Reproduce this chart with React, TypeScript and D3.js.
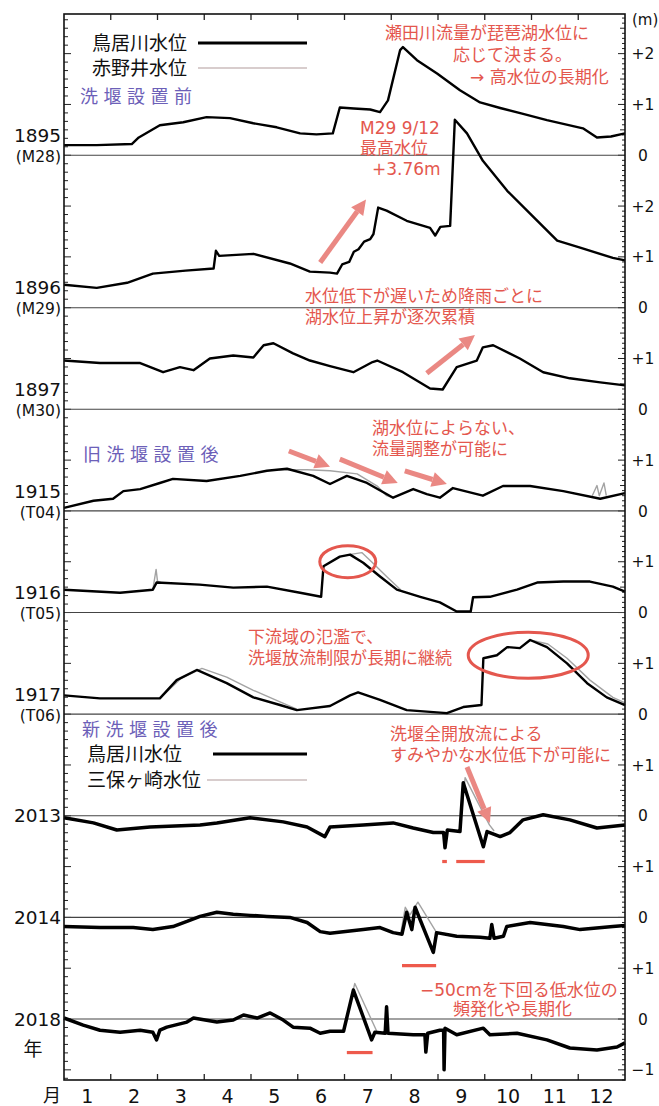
import React, { useEffect, useRef } from "react";
import * as d3 from "d3";

// month position: 0 = Jan 1, 12 = Dec 31 ; value: water level (m)
const monthLabels = ["1", "2", "3", "4", "5", "6", "7", "8", "9", "10", "11", "12"];

const torii1895 = [
  [0, 0.2], [0.7, 0.2], [1.45, 0.22], [1.6, 0.35], [2.05, 0.59], [2.55, 0.65], [3.05, 0.75],
  [3.55, 0.73], [4.05, 0.63], [4.55, 0.55], [5.05, 0.43], [5.4, 0.41], [5.75, 0.43], [5.9, 0.94],
  [6.2, 0.92], [6.55, 0.9], [6.76, 0.85], [6.93, 1.08], [7.19, 2.07], [7.25, 2.13], [7.55, 1.87],
  [7.98, 1.61], [8.47, 1.28], [8.9, 1.04], [9.33, 0.93], [9.8, 0.82], [10.33, 0.69], [11.1, 0.53],
  [11.4, 0.35], [11.7, 0.37], [12, 0.43],
];
const torii1896 = [
  [0, 0.45], [0.7, 0.39], [1.35, 0.49], [1.9, 0.67], [2.6, 0.73], [3.2, 0.77], [3.25, 1.12],
  [3.32, 1.02], [4.05, 1.06], [4.83, 0.87], [5.26, 0.71], [5.69, 0.69], [5.84, 0.67], [5.95, 0.85],
  [6.1, 0.9], [6.2, 1.1], [6.3, 1.15], [6.42, 1.3], [6.55, 1.35], [6.62, 1.45], [6.72, 1.97],
  [6.9, 1.91], [7.33, 1.71], [7.83, 1.57], [7.94, 1.42], [8.05, 1.59], [8.26, 1.61], [8.36, 3.7],
  [8.62, 3.43], [8.96, 2.89], [9.48, 2.3], [9.97, 1.85], [10.55, 1.32], [11.04, 1.18],
  [11.74, 0.98], [12, 0.93],
];
const torii1897 = [
  [0, 0.96], [0.77, 0.91], [1.63, 0.91], [2.12, 0.73], [2.48, 0.83], [2.77, 0.77], [3.12, 1.0],
  [3.62, 1.06], [4.05, 1.02], [4.27, 1.26], [4.48, 1.3], [4.9, 1.1], [5.26, 0.96], [5.69, 0.85],
  [6.19, 0.73], [6.6, 0.93], [6.7, 0.96], [7.25, 0.73], [7.83, 0.41], [8.1, 0.39], [8.4, 0.83],
  [8.83, 0.96], [8.96, 1.22], [9.18, 1.26], [9.75, 1.0], [10.25, 0.73], [10.82, 0.61],
  [11.47, 0.53], [12, 0.47],
];
const torii1915 = [
  [0, 0.06], [0.63, 0.2], [1.05, 0.24], [1.27, 0.39], [1.63, 0.43], [2.05, 0.55], [2.33, 0.63],
  [3.05, 0.59], [3.77, 0.69], [4.34, 0.79], [4.77, 0.83], [5.33, 0.69], [5.69, 0.53], [6.05, 0.69],
  [6.48, 0.55], [7.04, 0.26], [7.47, 0.43], [7.76, 0.33], [8.04, 0.26], [8.32, 0.45], [8.96, 0.3],
  [9.39, 0.49], [9.97, 0.49], [10.68, 0.39], [11.47, 0.24], [12, 0.35],
];
const torii1916 = [
  [0, 0.45], [1.2, 0.39], [1.9, 0.45], [1.98, 0.59], [2.9, 0.55], [3.62, 0.49], [4.34, 0.51],
  [5.05, 0.39], [5.5, 0.31], [5.55, 0.91], [5.9, 1.1], [6.12, 1.14], [6.4, 0.98], [6.76, 0.71],
  [7.12, 0.45], [7.62, 0.31], [8.04, 0.2], [8.4, 0.02], [8.7, 0.02], [8.75, 0.3], [9.11, 0.31],
  [9.69, 0.45], [10.12, 0.59], [10.68, 0.61], [11.25, 0.61], [11.74, 0.51], [12, 0.41],
];
const torii1917 = [
  [0, 0.37], [0.77, 0.31], [2.05, 0.31], [2.41, 0.67], [2.84, 0.87], [3.48, 0.61], [4.05, 0.33],
  [4.62, 0.18], [4.98, 0.08], [5.69, 0.16], [6.12, 0.37], [6.29, 0.43], [6.76, 0.28], [7.33, 0.08],
  [8.19, 0.02], [8.54, 0.14], [8.93, 0.18], [8.97, 1.1], [9.26, 1.16], [9.48, 1.32], [9.75, 1.3],
  [9.97, 1.46], [10.33, 1.32], [10.76, 1.0], [11.19, 0.61], [11.61, 0.33], [12, 0.18],
];
const torii2013 = [
  [0, -0.04], [0.63, -0.14], [1.13, -0.28], [1.84, -0.22], [2.91, -0.18], [3.27, -0.14],
  [3.98, -0.04], [4.69, -0.12], [5.2, -0.22], [5.58, -0.41], [5.69, -0.22], [6.4, -0.18],
  [7.04, -0.14], [7.47, -0.24], [7.9, -0.33], [8.12, -0.33], [8.15, -0.63], [8.2, -0.28],
  [8.47, -0.31], [8.54, 0.65], [8.97, -0.61], [9.05, -0.31], [9.33, -0.41], [9.54, -0.33],
  [9.82, -0.08], [10.25, 0.02], [10.82, -0.08], [11.4, -0.24], [12, -0.18],
];
const torii2014 = [
  [0, -0.18], [0.77, -0.2], [1.48, -0.2], [1.9, -0.24], [2.33, -0.18], [2.63, -0.08], [2.91, 0.02],
  [3.27, 0.1], [3.62, 0.06], [3.98, 0.04], [4.34, 0.02], [4.83, 0], [5.2, -0.1], [5.48, -0.28],
  [5.69, -0.31], [6.4, -0.24], [6.76, -0.2], [7.04, -0.3], [7.23, -0.33], [7.33, 0.1], [7.44, -0.24],
  [7.51, 0.2], [7.9, -0.69], [7.97, -0.3], [8.4, -0.37], [8.9, -0.39], [9.11, -0.41], [9.15, -0.14],
  [9.2, -0.41], [9.4, -0.37], [9.47, -0.18], [9.97, -0.1], [10.68, -0.18], [11.04, -0.24],
  [11.74, -0.18], [12, -0.16],
];
const torii2018 = [
  [0, 0.02], [0.41, -0.12], [0.77, -0.22], [1.2, -0.26], [1.63, -0.22], [1.9, -0.26], [1.98, -0.41],
  [2.05, -0.22], [2.2, -0.16], [2.63, -0.06], [2.77, 0.02], [3.27, -0.06], [3.62, -0.02],
  [3.84, 0.08], [4.13, 0.02], [4.41, 0.12], [4.69, -0.02], [4.9, -0.16], [5.26, -0.18],
  [5.48, -0.28], [5.69, -0.24], [5.98, -0.24], [6.19, 0.57], [6.58, -0.41], [6.65, -0.26],
  [6.87, -0.28], [6.9, 0.24], [6.93, -0.28], [7.47, -0.31], [7.72, -0.31], [7.74, -0.65],
  [7.78, -0.28], [8.04, -0.22], [8.12, -0.22], [8.13, -1.0], [8.15, -0.18], [8.4, -0.31],
  [8.97, -0.18], [9.11, -0.31], [9.69, -0.28], [10.33, -0.41], [10.82, -0.57], [11.4, -0.61],
  [11.83, -0.55], [12, -0.47],
];

// second gauge, only where it departs from the main one
const second1915 = [
  [[4.6, 0.81], [5.2, 0.81], [5.69, 0.79], [6.27, 0.73], [6.7, 0.49], [6.9, 0.3], [7.04, 0.26]],
  [[11.3, 0.3], [11.4, 0.5], [11.45, 0.3], [11.55, 0.55], [11.6, 0.3]],
];
const second1916 = [
  [[1.9, 0.45], [1.97, 0.85], [2.0, 0.62], [2.1, 0.58]],
  [[6.1, 1.14], [6.37, 1.18], [6.6, 0.98], [6.9, 0.71], [7.2, 0.45]],
];
const second1917 = [
  [[2.05, 0.31], [2.5, 0.7], [2.95, 0.9], [3.48, 0.73], [4.05, 0.47], [4.62, 0.24], [4.98, 0.1]],
  [[9.97, 1.46], [10.35, 1.38], [10.76, 1.1], [11.25, 0.67], [11.74, 0.33], [12, 0.22]],
];
const second2013 = [[[8.47, -0.31], [8.58, 0.75], [9.1, -0.18], [9.2, -0.3]]];
const second2014 = [[[7.2, -0.33], [7.3, 0.2], [7.4, 0.05], [7.57, 0.3], [7.97, -0.3]]];
const second2018 = [[[5.98, -0.24], [6.22, 0.7], [6.7, -0.26]]];

// full-open discharge periods (red bars)
const openGate2013 = [[8.09, 8.19], [8.39, 9.0]];
const openGate2014 = [[7.23, 7.96]];
const openGate2018 = [[6.05, 6.6]];

const panels = [
  { year: "1895", era: "(M28)", offset: 17, main: torii1895, second: [], right: [0, 1, 2] },
  { year: "1896", era: "(M29)", offset: 14, main: torii1896, second: [], right: [0, 1, 2] },
  { year: "1897", era: "(M30)", offset: 12, main: torii1897, second: [], right: [0, 1] },
  { year: "1915", era: "(T04)", offset: 10, main: torii1915, second: second1915, right: [0, 1] },
  { year: "1916", era: "(T05)", offset: 8, main: torii1916, second: second1916, right: [0, 1] },
  { year: "1917", era: "(T06)", offset: 6, main: torii1917, second: second1917, right: [0, 1] },
  { year: "2013", era: "", offset: 4, main: torii2013, second: second2013, right: [0, 1], bars: openGate2013, barAt: -0.9 },
  { year: "2014", era: "", offset: 2, main: torii2014, second: second2014, right: [0, 1], bars: openGate2014, barAt: -0.95 },
  { year: "2018", era: "", offset: 0, main: torii2018, second: second2018, right: [-1, 0, 1], bars: openGate2018, barAt: -0.66 },
];

// arrows: [panel offset, tail t, tail v, tip t, tip v]
const arrows = [
  [14, 5.48, 0.89, 6.46, 2.13],
  [12, 7.76, 0.71, 8.79, 1.46],
  [10, 4.81, 1.18, 5.69, 0.87],
  [10, 5.9, 1.02, 7.14, 0.55],
  [10, 7.29, 0.79, 8.19, 0.53],
  [4, 8.62, 0.96, 9.11, -0.14],
];
// ellipses: [panel offset, t, v, rx px, ry px]
const rings = [
  [8, 6.07, 1.0, 28, 16],
  [6, 9.93, 1.16, 60, 23],
];

const notes = [
  { text: "瀬田川流量が琵琶湖水位に", x: 385, y: 33 },
  { text: "応じて決まる。", x: 453, y: 55 },
  { text: "→ 高水位の長期化", x: 470, y: 77 },
  { text: "M29 9/12", x: 360, y: 128 },
  { text: "最高水位", x: 360, y: 148 },
  { text: "+3.76m", x: 372, y: 169 },
  { text: "水位低下が遅いため降雨ごとに", x: 305, y: 296 },
  { text: "湖水位上昇が逐次累積", x: 305, y: 317 },
  { text: "湖水位によらない、", x: 372, y: 428 },
  { text: "流量調整が可能に", x: 372, y: 449 },
  { text: "下流域の氾濫で、", x: 248, y: 637 },
  { text: "洗堰放流制限が長期に継続", x: 248, y: 658 },
  { text: "洗堰全開放流による", x: 390, y: 734 },
  { text: "すみやかな水位低下が可能に", x: 390, y: 755 },
  { text: "−50cmを下回る低水位の", x: 420, y: 990 },
  { text: "頻発化や長期化", x: 453, y: 1009 },
];
const sections = [
  { text: "洗堰設置前", x: 80, y: 97 },
  { text: "旧洗堰設置後", x: 83, y: 455 },
  { text: "新洗堰設置後", x: 82, y: 730 },
];
const legends = [
  { text: "鳥居川水位", x: 92, y: 43, x1: 198, x2: 307, main: true },
  { text: "赤野井水位", x: 92, y: 68, x1: 198, x2: 307, main: false },
  { text: "鳥居川水位", x: 87, y: 754, x1: 213, x2: 307, main: true },
  { text: "三保ヶ崎水位", x: 87, y: 780, x1: 207, x2: 307, main: false },
];

const FONT = "'DejaVu Sans', 'Noto Sans CJK JP', sans-serif";
const RED = "#e4574e";
const ARROW = "#ea8883";
const PURPLE = "#6c60b8";

export default function App() {
  const ref = useRef<SVGSVGElement>(null);

  useEffect(() => {
    const svg = d3.select(ref.current);
    svg.selectAll("*").remove();
    const left = 64, right = 625, top = 14, bottom = 1080;

    const x = d3.scaleLinear().domain([0, 12]).range([left, right]);
    const y = d3.scaleLinear().domain([-1.2, 19.78]).range([bottom, top]);

    const g = svg.append("g").style("font-family", FONT);

    // ticks
    d3.range(-7, 119).forEach((i) => {
      const yy = y(i / 6);
      if (yy < top || yy > bottom) return;
      g.append("line").attr("x1", left).attr("x2", left + (i % 6 === 0 ? 7 : 4))
        .attr("y1", yy).attr("y2", yy).attr("stroke", "#222").attr("stroke-width", 1);
    });
    d3.range(-12, 198).forEach((i) => {
      const yy = y(i / 10);
      if (yy < top || yy > bottom) return;
      const len = i % 10 === 0 ? 7 : i % 5 === 0 ? 5 : 3;
      g.append("line").attr("x1", right - len).attr("x2", right)
        .attr("y1", yy).attr("y2", yy).attr("stroke", "#222").attr("stroke-width", 1);
    });
    d3.range(1, 12).forEach((m) => {
      g.append("line").attr("x1", x(m)).attr("x2", x(m)).attr("y1", top).attr("y2", top + 6)
        .attr("stroke", "#222").attr("stroke-width", 1.3);
      g.append("line").attr("x1", x(m)).attr("x2", x(m)).attr("y1", bottom).attr("y2", bottom - 6)
        .attr("stroke", "#222").attr("stroke-width", 1.3);
    });

    // month labels
    monthLabels.forEach((m, i) => {
      g.append("text").attr("x", x(i + 0.5)).attr("y", 1096).attr("dy", "0.36em")
        .attr("text-anchor", "middle").style("font-size", "19px").attr("fill", "#111").text(m);
    });
    g.append("text").attr("x", 52).attr("y", 1096).attr("dy", "0.36em").attr("text-anchor", "middle")
      .style("font-size", "18px").attr("fill", "#111").text("月");
    g.append("text").attr("x", 33).attr("y", 1049).attr("dy", "0.36em").attr("text-anchor", "middle")
      .style("font-size", "19px").attr("fill", "#111").text("年");
    g.append("text").attr("x", 632).attr("y", 20).attr("dy", "0.36em")
      .style("font-size", "15px").attr("fill", "#111").text("(m)");

    panels.forEach((p) => {
      const base = y(p.offset);
      g.append("line").attr("x1", left).attr("x2", right).attr("y1", base).attr("y2", base)
        .attr("stroke", "#444").attr("stroke-width", 1.1);

      const modern = p.era === "";
      g.append("text").attr("x", 61).attr("y", modern ? base : base - 20).attr("dy", "0.36em")
        .attr("text-anchor", "end").style("font-size", "18.5px").attr("fill", "#111").text(p.year);
      if (!modern) {
        g.append("text").attr("x", 61).attr("y", base + 1).attr("dy", "0.36em")
          .attr("text-anchor", "end").style("font-size", "15.5px").attr("fill", "#111").text(p.era);
      }
      p.right.forEach((v) => {
        g.append("text").attr("x", 643).attr("y", y(p.offset + v)).attr("dy", "0.36em")
          .attr("text-anchor", "middle").style("font-size", "15.5px").attr("fill", "#111")
          .text(v > 0 ? `+${v}` : v < 0 ? `−${-v}` : "0");
      });

      const line = d3.line<number[]>().x((d) => x(d[0])).y((d) => y(d[1] + p.offset));
      p.second.forEach((seg) => {
        g.append("path").attr("d", line(seg)).attr("fill", "none").attr("stroke", "#a3a3a3")
          .attr("stroke-width", 1.4).attr("stroke-linejoin", "round");
      });
      g.append("path").attr("d", line(p.main)).attr("fill", "none").attr("stroke", "#000")
        .attr("stroke-width", modern ? 3.5 : 2.4).attr("stroke-linejoin", "round");

      (p.bars || []).forEach((b) => {
        g.append("line").attr("x1", x(b[0])).attr("x2", x(b[1]))
          .attr("y1", y(p.offset + p.barAt)).attr("y2", y(p.offset + p.barAt))
          .attr("stroke", "#ee5a4c").attr("stroke-width", 3.2);
      });
    });

    // frame
    g.append("rect").attr("x", left).attr("y", top).attr("width", right - left).attr("height", bottom - top)
      .attr("fill", "none").attr("stroke", "#111").attr("stroke-width", 1.6);

    // legends
    legends.forEach((l) => {
      g.append("text").attr("x", l.x).attr("y", l.y).attr("dy", "0.36em").style("font-size", "19px")
        .attr("fill", "#111").text(l.text);
      g.append("line").attr("x1", l.x1).attr("x2", l.x2).attr("y1", l.y).attr("y2", l.y)
        .attr("stroke", l.main ? "#000" : "#cbbdbd").attr("stroke-width", l.main ? 3 : 1.5);
    });
    sections.forEach((s) => {
      g.append("text").attr("x", s.x).attr("y", s.y).attr("dy", "0.36em").style("font-size", "18px")
        .style("letter-spacing", "5.5px").attr("fill", PURPLE).text(s.text);
    });

    // arrows
    arrows.forEach(([off, t0, v0, t1, v1]) => {
      const x0 = x(t0), y0 = y(off + v0), x1 = x(t1), y1 = y(off + v1);
      const ang = Math.atan2(y1 - y0, x1 - x0);
      const head = 15, half = 7.5;
      const bx = x1 - head * Math.cos(ang), by = y1 - head * Math.sin(ang);
      g.append("line").attr("x1", x0).attr("y1", y0).attr("x2", bx).attr("y2", by)
        .attr("stroke", ARROW).attr("stroke-width", 5);
      const pts = [
        [x1, y1],
        [bx + half * Math.sin(ang), by - half * Math.cos(ang)],
        [bx - half * Math.sin(ang), by + half * Math.cos(ang)],
      ];
      g.append("polygon").attr("points", pts.map((q) => q.join(",")).join(" ")).attr("fill", ARROW);
    });
    rings.forEach(([off, t, v, rx, ry]) => {
      g.append("ellipse").attr("cx", x(t)).attr("cy", y(off + v)).attr("rx", rx).attr("ry", ry)
        .attr("fill", "none").attr("stroke", RED).attr("stroke-width", 3);
    });

    notes.forEach((n) => {
      g.append("text").attr("x", n.x).attr("y", n.y).attr("dy", "0.36em").style("font-size", "17px")
        .attr("fill", RED).text(n.text);
    });
  }, []);

  return (
    <svg ref={ref} width={659} height={1106}
      style={{ display: "block", position: "absolute", left: 0, top: 0, background: "#fff" }} />
  );
}
